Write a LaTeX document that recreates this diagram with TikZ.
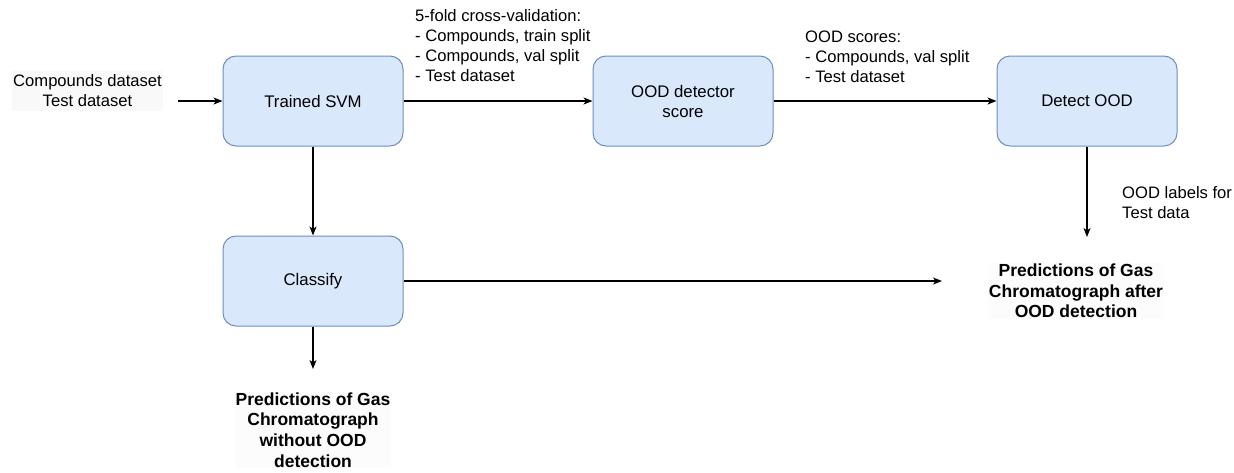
\documentclass[tikz,border=0pt]{standalone}
\usepackage{fontspec}
\setmainfont{Liberation Sans}
\usetikzlibrary{arrows.meta}
\definecolor{boxfill}{HTML}{DAE8FC}
\definecolor{boxline}{HTML}{6C8EBF}
\definecolor{txtbg}{HTML}{F9F9F9}
\definecolor{txtbgb}{HTML}{FCFCFC}
\tikzset{
  procbox/.style={draw=boxline, fill=boxfill, line width=1pt, rounded corners=13pt,
    minimum width=180pt, minimum height=90pt, align=center, inner sep=2pt,
    font=\fontsize{16.8}{20}\selectfont},
  conn/.style={line width=1.1pt, -{Stealth[length=9pt,width=7pt,inset=2.5pt]}},
  plain/.style={align=left, inner sep=0pt, font=\fontsize{16.6}{20}\selectfont},
  boldtxt/.style={align=center, inner sep=1pt, fill=txtbgb, font=\fontsize{17.5}{20.7}\selectfont\bfseries}
}
\begin{document}
\begin{tikzpicture}[x=1pt,y=-1pt]
\useasboundingbox (0,0) rectangle (1234,472);
\node[procbox] (svm) at (313,101) {Trained SVM};
\node[procbox] (ood) at (683,101) {OOD detector\\score};
\node[procbox] (det) at (1087,101) {Detect OOD};
\node[procbox] (cls) at (313,281) {Classify};
\node[plain, align=center, fill=txtbg, inner xsep=1pt, inner ysep=4pt] (inp) at (87.5,91) {Compounds dataset\\Test dataset};
\coordinate (inA) at (178,101);
\node[boldtxt] (predA) at (313,430) {Predictions of Gas\\Chromatograph\\without OOD\\detection};
\node[boldtxt] (predB) at (1076,291) {Predictions of Gas\\Chromatograph after\\OOD detection};
\coordinate (clsEnd) at (942,281);
\coordinate (detEnd) at (1087,237);
\coordinate (clsDown) at (313,369);
\node[plain, anchor=north west] (lab1) at (415,9) {5-fold cross-validation:\\- Compounds, train split\\- Compounds, val split\\- Test dataset};
\node[plain, anchor=north west] (lab2) at (805,31) {OOD scores:\\- Compounds, val split\\- Test dataset};
\node[plain, anchor=north west] (lab3) at (1122,186) {OOD labels for\\Test data};
\draw[conn] (inA) -- (svm.west);
\draw[conn] (svm.east) -- (ood.west);
\draw[conn] (ood.east) -- (det.west);
\draw[conn] (svm.south) -- (cls.north);
\draw[conn] (det.south) -- (detEnd);
\draw[conn] (cls.east) -- (clsEnd);
\draw[conn] (cls.south) -- (clsDown);
\end{tikzpicture}
\end{document}
